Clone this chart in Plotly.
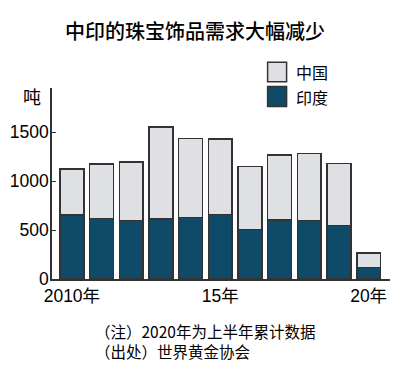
import plotly.graph_objects as go

years = [2010, 2011, 2012, 2013, 2014, 2015, 2016, 2017, 2018, 2019, 2020]
india = [656, 618, 598, 615, 629, 659, 503, 602, 595, 547, 118]
total = [1122, 1173, 1194, 1554, 1432, 1429, 1149, 1265, 1282, 1180, 265]
china = [t - i for t, i in zip(total, india)]
tick_vals = [2010, 2015, 2020]
tick_text = ["2010年", "15年", "20年"]
y_ticks = [0, 500, 1000, 1500]
legend_names = ["中国", "印度"]

C_CHINA = "#dfe0e3"
C_INDIA = "#0f4b68"
C_LINE = "#333333"
NUM_FONT = "Liberation Sans, Arial, Noto Sans CJK SC, sans-serif"
CJK_FONT = "Noto Sans CJK SC, sans-serif"

# page body has an 8px default margin; figure is placed at (8, 8)
OFF = 8
W, H = 384, 361
# plot area in page pixels: left 51.7, right 390, top 88, bottom 279.3
ML = 51.7 - OFF
MR = W - (390 - OFF)
MT = 88 - OFF
MB = H - (279.3 - OFF)

fig = go.Figure()
fig.add_trace(go.Bar(x=years, y=india, name=legend_names[1],
                     marker=dict(color=C_INDIA, line=dict(color=C_LINE, width=1.5))))
fig.add_trace(go.Bar(x=years, y=china, name=legend_names[0],
                     marker=dict(color=C_CHINA, line=dict(color=C_LINE, width=1.5))))

fig.update_layout(
    width=W, height=H,
    margin=dict(l=ML, r=MR, t=MT, b=MB, autoexpand=False),
    barmode="stack", bargap=0.2,
    showlegend=False,
    plot_bgcolor="white", paper_bgcolor="white",
    xaxis=dict(range=[2009.33, 2020.72], tickvals=tick_vals, ticktext=tick_text,
               automargin=False,
               showgrid=False, zeroline=False, showline=True, linecolor=C_LINE,
               linewidth=1.5, ticks="", tickfont=dict(family=NUM_FONT, size=17.5, color="black"),
               ticklabelstandoff=0),
    yaxis=dict(range=[0, 1950], tickvals=y_ticks, showgrid=False, zeroline=False,
               automargin=False,
               showline=True, linecolor=C_LINE, linewidth=1.5, ticks="inside",
               ticklen=4, tickcolor=C_LINE,
               tickfont=dict(family=NUM_FONT, size=17.5, color="black"),
               ticklabelstandoff=-2),
)


def px_to_paper_x(px):
    return (px - OFF - ML) / (W - ML - MR)


def px_to_paper_y(py):
    return (H - MB - (py - OFF)) / (H - MT - MB)


fig.add_annotation(text="中印的珠宝饰品需求大幅减少", xref="paper", yref="paper",
                   x=px_to_paper_x(195), y=px_to_paper_y(30), xanchor="center", yanchor="middle",
                   showarrow=False, font=dict(family=CJK_FONT, size=20, color="black", weight=500))
fig.add_annotation(text="吨", xref="paper", yref="paper",
                   x=px_to_paper_x(32), y=px_to_paper_y(96), xanchor="center", yanchor="middle",
                   showarrow=False, font=dict(family=CJK_FONT, size=18, color="black"))

# Legend (manual)
leg = [(legend_names[0], C_CHINA, 62.3, 81.7, 72), (legend_names[1], C_INDIA, 86.5, 106.5, 97)]
for name, col, y0, y1, yc in leg:
    fig.add_shape(type="rect", xref="paper", yref="paper",
                  x0=px_to_paper_x(267.5), x1=px_to_paper_x(286.5),
                  y0=px_to_paper_y(y1), y1=px_to_paper_y(y0),
                  fillcolor=col, line=dict(color=C_LINE, width=1.5))
    fig.add_annotation(text=name, xref="paper", yref="paper",
                       x=px_to_paper_x(294), y=px_to_paper_y(yc), xanchor="left", yanchor="middle",
                       showarrow=False, font=dict(family=CJK_FONT, size=16, color="black"))

# Notes
notes = ["（注）2020年为上半年累计数据", "（出处）世界黄金协会"]
for i, t in enumerate(notes):
    fig.add_annotation(text=t, xref="paper", yref="paper",
                       x=px_to_paper_x(93), y=px_to_paper_y(331.5 + 19.5 * i), xanchor="left", yanchor="middle",
                       showarrow=False, font=dict(family=CJK_FONT, size=15.5, color="black"))

fig.write_html("out.html")
